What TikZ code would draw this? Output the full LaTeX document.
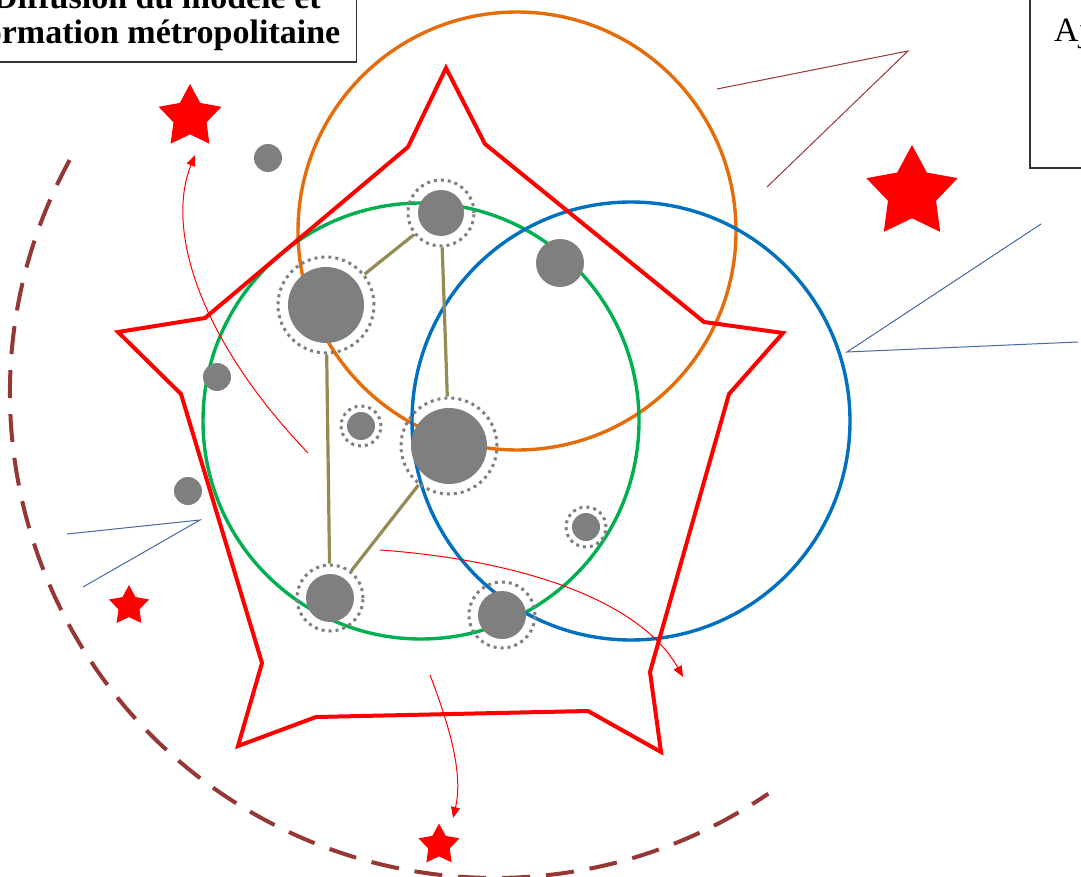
\documentclass[tikz,border=0pt]{standalone}
\usepackage{fontspec}
\setmainfont{Liberation Serif}
\usetikzlibrary{arrows.meta,shapes.geometric}
\definecolor{rouge}{RGB}{255,0,0}
\definecolor{orangec}{RGB}{228,108,10}
\definecolor{vert}{RGB}{0,176,80}
\definecolor{bleu}{RGB}{0,112,192}
\definecolor{brique}{RGB}{149,55,53}
\definecolor{kaki}{RGB}{148,138,84}
\definecolor{ardoise}{RGB}{70,105,160}
\definecolor{gris}{RGB}{127,127,127}
\tikzset{
  pole/.style={circle,fill=gris,inner sep=0pt,minimum size=#1},
  halo/.style={circle,draw=gris,line width=3pt,dash pattern=on 3pt off 4pt,inner sep=0pt,minimum size=#1},
  lien/.style={draw=kaki,line width=3.2pt},
  flux/.style={rouge,line width=1pt,-{Triangle[length=11pt,width=9pt]}},
  etoile/.style={star,star points=5,star point ratio=1.9,fill=rouge,inner sep=0pt,minimum size=#1},
  aire/.style={line width=3.4pt}
}
\begin{document}
\begin{tikzpicture}[x=1pt,y=-1pt]
\useasboundingbox (0,0) rectangle (1081,877);
\fill[white] (0,0) rectangle (1081,877);
% aires
\draw[aire,orangec] (517,231) circle[radius=219pt];
\draw[aire,vert] (421,421) circle[radius=218pt];
\draw[aire,bleu] (631,421) circle[radius=219pt];
% etoile
\draw[rouge,line width=4pt,line join=miter]
  (446,68) -- (485,144) -- (704,322) -- (783,333) -- (729,394) -- (650,672)
  -- (661,752) -- (588,711) -- (316,717) -- (238,746) -- (262,663)
  -- (181,394) -- (118,332) -- (205,318) -- (408,147) -- cycle;
% poles
\foreach \n/\x/\y/\r/\R in {1/441/213/23/33, 2/326/305/38/48, 3/449/446/38/48,
    4/330/598/24/33, 5/502/615/24/33, 6/361/426/14/20, 7/586/527/14/20} {
  \node[halo=2*\R pt] (h\n) at (\x,\y) {};
  \node[pole=2*\r pt] (p\n) at (\x,\y) {};
}
\foreach \n/\x/\y/\r in {8/268/158/14, 9/560/263/24, 10/217/377/14, 11/188/491/14}
  \node[pole=2*\r pt] (p\n) at (\x,\y) {};
\draw[lien] (h1) -- (h2);
\draw[lien] (h1) -- (h3);
\draw[lien] (h2) -- (h4);
\draw[lien] (h3) -- (h4);
% etoiles
\node[etoile=66pt] (s1) at (190,117) {};
\node[etoile=96pt] (s2) at (912,193) {};
\node[etoile=42pt] (s3) at (129,606) {};
\node[etoile=43pt] (s4) at (439,845) {};
% diffusion
\coordinate (a1) at (308,453);
\coordinate (b1) at (195,155);
\coordinate (a2) at (380,550);
\coordinate (b2) at (683,677);
\coordinate (a3) at (430,675);
\coordinate (b3) at (453,818);
\draw[flux] (a1) .. controls (200,340) and (165,230) .. (b1);
\draw[flux] (a2) .. controls (520,560) and (640,600) .. (b2);
\draw[flux] (a3) .. controls (455,740) and (462,780) .. (b3);
\draw[brique,line width=1pt] (717,89) -- (908,51) -- (767,187);
\draw[ardoise,line width=1pt] (1041,224) -- (847,352) -- (1078,342);
\draw[ardoise,line width=1pt] (67,534) -- (200,520) -- (83,587);
\draw[brique,line width=4pt,dash pattern=on 28pt off 16pt]
  (495,393) ++(208.7:485) arc[start angle=208.7,end angle=55.7,radius=485];
% cadres
\node[draw=black!80,line width=1.5pt,fill=white,align=center,anchor=south east,
  inner xsep=16pt,inner ysep=12pt,font=\fontsize{34}{35}\selectfont\bfseries]
  (titre) at (357,63) {Diffusion du modèle et\\formation métropolitaine};
\draw[black!80,line width=2pt] (1030,-20) rectangle (1130,168);
\node[anchor=base west,inner sep=0pt,font=\fontsize{34}{38}\selectfont]
  (legende) at (1054,42) {Aj};
\end{tikzpicture}
\end{document}
